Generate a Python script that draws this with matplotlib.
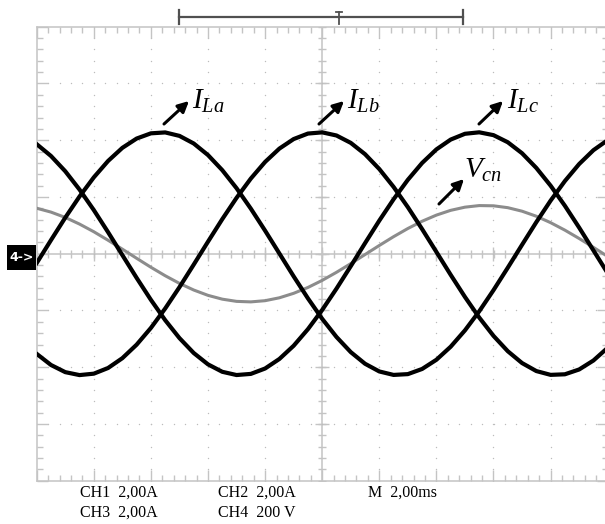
import matplotlib
matplotlib.use("Agg")
import matplotlib.pyplot as plt
import numpy as np
from matplotlib.patches import FancyArrowPatch, Rectangle
from matplotlib.lines import Line2D

plt.rcParams['mathtext.fontset'] = 'custom'
plt.rcParams['mathtext.it'] = 'Liberation Serif:italic'
plt.rcParams['mathtext.rm'] = 'Liberation Serif'

# ---------------------------------------------------
# scope data (divisions, 2 ms/div)
# ---------------------------------------------------
t_div = np.linspace(-5, 5, 41)

ILa = [-0.165, 0.239, 0.635, 1.008, 1.345, 1.634, 1.865, 2.029, 2.121, 2.137,
       2.076, 1.942, 1.738, 1.472, 1.154, 0.794, 0.406, 0.004, -0.399, -0.787,
       -1.148, -1.467, -1.734, -1.939, -2.075, -2.136, -2.122, -2.031, -1.869, -1.639,
       -1.351, -1.015, -0.642, -0.247, 0.157, 0.556, 0.935, 1.280, 1.580, 1.824, 2.002]
ILb = [-1.765, -1.961, -2.087, -2.139, -2.114, -2.014, -1.841, -1.603, -1.308, -0.966,
       -0.590, -0.192, 0.212, 0.609, 0.984, 1.324, 1.617, 1.852, 2.020, 2.117,
       2.138, 2.083, 1.953, 1.754, 1.492, 1.177, 0.820, 0.433, 0.031, -0.372,
       -0.762, -1.125, -1.448, -1.718, -1.927, -2.068, -2.135, -2.125, -2.040, -1.882, -1.657]
ILc = [1.930, 1.722, 1.453, 1.130, 0.769, 0.379, -0.024, -0.426, -0.813, -1.171,
       -1.487, -1.750, -1.950, -2.081, -2.138, -2.118, -2.023, -1.855, -1.622, -1.330,
       -0.991, -0.616, -0.220, 0.185, 0.583, 0.959, 1.302, 1.599, 1.838, 2.011,
       2.113, 2.139, 2.089, 1.964, 1.770, 1.511, 1.199, 0.845, 0.460, 0.058, -0.345]
Vcn = [0.801, 0.733, 0.639, 0.522, 0.387, 0.237, 0.080, -0.081, -0.239, -0.388,
       -0.523, -0.640, -0.734, -0.801, -0.840, -0.849, -0.828, -0.777, -0.698, -0.595,
       -0.470, -0.328, -0.175, -0.015, 0.145, 0.300, 0.444, 0.572, 0.680, 0.764,
       0.820, 0.848, 0.844, 0.811, 0.749, 0.660, 0.547, 0.415, 0.268, 0.112, -0.049]

channel_text = [["CH1  2,00A", "CH2  2,00A", "M  2,00ms"],
                ["CH3  2,00A", "CH4  200 V", ""]]

W, H = 605, 524
GRID = "#c4c4c4"


def px(x, y):
    # pixel position -> figure fraction
    return x / W, 1 - y / H


fig = plt.figure(figsize=(W / 100, H / 100), dpi=100)
ax = fig.add_axes([36.7 / W, 1 - 480.7 / H, 571 / W, 454 / H])
ax.set_xlim(-5, 5)
ax.set_ylim(-4, 4)

# graticule
for s in ax.spines.values():
    s.set_color(GRID)
    s.set_linewidth(1.1)
ax.set_xticks(np.arange(-5, 6, 1))
ax.set_yticks(np.arange(-4, 5, 1))
ax.set_xticks(np.arange(-5, 5.01, 0.2), minor=True)
ax.set_yticks(np.arange(-4, 4.01, 0.2), minor=True)
ax.tick_params(which="both", direction="in", top=True, bottom=True, left=True, right=True,
               colors=GRID, labelbottom=False, labelleft=False, width=1)
ax.tick_params(which="major", length=8)
ax.tick_params(which="minor", length=4)

ax.axhline(0, color=GRID, lw=1.1, zorder=1)
ax.axvline(0, color=GRID, lw=1.1, zorder=1)
xm = np.arange(-5, 5.01, 0.2)
ym = np.arange(-4, 4.01, 0.2)
ax.plot(xm, np.zeros_like(xm), "|", color=GRID, ms=5.5, mew=1, zorder=1)
ax.plot(np.zeros_like(ym), ym, "_", color=GRID, ms=5.5, mew=1, zorder=1)
ax.plot(np.arange(-4, 5, 1), np.zeros(9), "|", color=GRID, ms=9.5, mew=1, zorder=1)
ax.plot(np.zeros(7), np.arange(-3, 4, 1), "_", color=GRID, ms=9.5, mew=1, zorder=1)

for xv in [-4, -3, -2, -1, 1, 2, 3, 4]:
    ax.scatter(np.full_like(ym, xv), ym, s=1.0, color="#bcbcbc", lw=0, zorder=1)
for yv in [-3, -2, -1, 1, 2, 3]:
    ax.scatter(xm, np.full_like(xm, yv), s=1.0, color="#bcbcbc", lw=0, zorder=1)

# traces
ax.plot(t_div, Vcn, color="#8c8c8c", lw=2.2, zorder=3)
ax.plot(t_div, ILa, color="black", lw=3.0, zorder=4)
ax.plot(t_div, ILb, color="black", lw=3.0, zorder=4)
ax.plot(t_div, ILc, color="black", lw=3.0, zorder=4)

# labels with arrows
labels = [(r"$I_{La}$", (164, 124), (189, 101), (192, 109)),
          (r"$I_{Lb}$", (319, 124), (344, 101), (347, 109)),
          (r"$I_{Lc}$", (479, 124), (503, 101), (507, 109)),
          (r"$V_{cn}$", (439, 204), (464, 179), (464, 178))]
for txt, p0, p1, pt in labels:
    arr = FancyArrowPatch(px(*p0), px(*p1), transform=fig.transFigure,
                          arrowstyle="-|>", mutation_scale=16, lw=2.2, color="black",
                          shrinkA=0, shrinkB=0)
    fig.add_artist(arr)
    fig.text(*px(*pt), txt, fontsize=21, ha="left", va="baseline", color="black")

# top horizontal-position bar
bar_col = "#505050"
fig.add_artist(Line2D([179.3 / W, 463.3 / W], [1 - 16.7 / H] * 2, color=bar_col, lw=1.6))
for xb in (179.3, 463.3):
    fig.add_artist(Line2D([xb / W] * 2, [1 - 10 / H, 1 - 23.5 / H], color=bar_col, lw=1.6))
fig.add_artist(Line2D([335.8 / W, 341.8 / W], [1 - 11.6 / H] * 2, color=bar_col, lw=1.3))
fig.add_artist(Line2D([338.8 / W] * 2, [1 - 11.6 / H, 1 - 24 / H], color=bar_col, lw=1.3))

# channel 4 ground marker
x0, y0 = px(6.7, 270)
fig.add_artist(Rectangle((x0, y0), 29.3 / W, 25 / H, transform=fig.transFigure,
                         facecolor="black", edgecolor="none"))
fig.text(*px(21.3, 257.5), "4->", color="white", fontsize=9, fontweight="bold",
         ha="center", va="center", family="DejaVu Sans")

# channel settings
col_x = [80, 218, 368]
row_y = [493, 513]
for r, row in enumerate(channel_text):
    for c, s in enumerate(row):
        if s:
            fig.text(*px(col_x[c], row_y[r]), s, fontsize=11.5, family="Liberation Serif",
                     ha="left", va="center")

fig.savefig("out.png", dpi=100, facecolor="white")
